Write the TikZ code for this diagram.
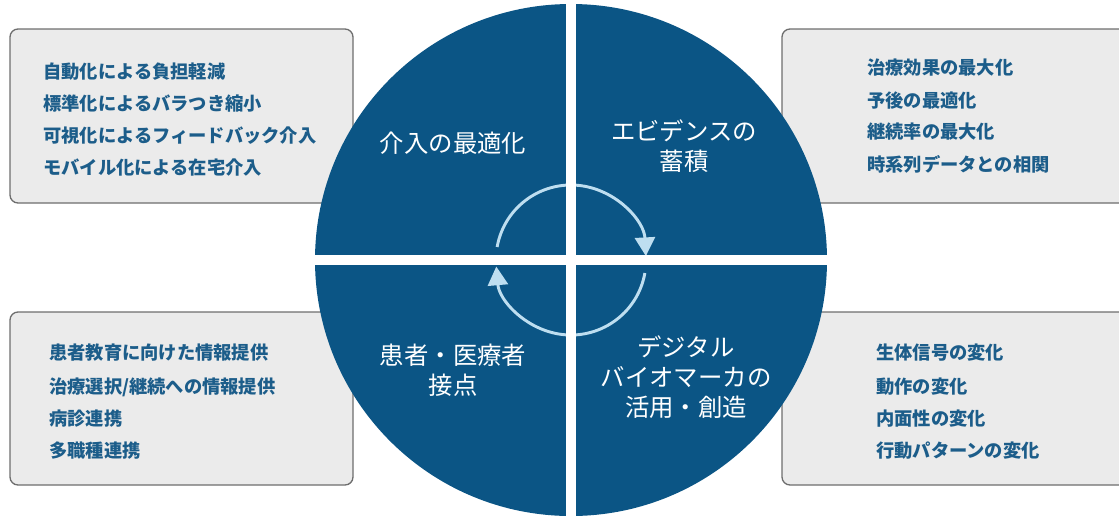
\documentclass[tikz,border=0pt]{standalone}
\usepackage{fontspec}
\newfontfamily\jp{Noto Sans CJK JP}
\usetikzlibrary{arrows.meta}
\definecolor{navy}{RGB}{11,85,133}
\definecolor{boxfill}{RGB}{235,235,235}
\definecolor{boxline}{RGB}{110,110,110}
\definecolor{txtblue}{RGB}{28,93,138}
\definecolor{arrowblue}{RGB}{190,222,240}
\begin{document}
\begin{tikzpicture}[x=0.75pt,y=-0.75pt,
  infobox/.style={draw=boxline, fill=boxfill, line width=1pt, rounded corners=6pt},
  item/.style={anchor=west, inner sep=0pt, text=txtblue, font=\jp\bfseries\fontsize{13.7}{16}\selectfont},
  quad/.style={align=center, text=white, font=\jp\fontsize{18.3}{22.5}\selectfont},
  cyc/.style={draw=arrowblue, line width=2.2pt, -{Triangle[width=15pt,length=14pt]}}]
\useasboundingbox (0,0) rectangle (1119,515);
\begin{scope}
\clip (0,0) rectangle (1119,515);
% side boxes
\path[infobox] (10,29) rectangle (353,203);
\path[infobox] (782,29) rectangle (1130,203);
\path[infobox] (10,312) rectangle (353,485);
\path[infobox] (782,312) rectangle (1130,485);
% circle
\fill[navy] (571,260) circle[radius=256];
% cycle arrows
\draw[cyc] (571,260) ++(-170:75) arc[start angle=-170,end angle=-3,radius=75];
\draw[cyc] (571,260) ++(10:75) arc[start angle=10,end angle=175,radius=75];
% white cross
\begin{scope}
\clip (571,260) circle[radius=257];
\fill[white] (566,0) rectangle (576,520);
\fill[white] (300,255) rectangle (840,265);
\end{scope}
\end{scope}
% quadrant labels
\node[quad] (q1) at (453,143) {介入の最適化};
\node[quad] (q2) at (684,146) {エビデンスの\\蓄積};
\node[quad] (q3) at (453,370) {患者・医療者\\接点};
\node[quad] (q4) at (686,377) {デジタル\\バイオマーカの\\活用・創造};
% items
\node[item] (tl1) at (43,72) {自動化による負担軽減};
\node[item] (tl2) at (43,104) {標準化によるバラつき縮小};
\node[item] (tl3) at (43,136) {可視化によるフィードバック介入};
\node[item] (tl4) at (43,168) {モバイル化による在宅介入};
\node[item] (tr1) at (867,68) {治療効果の最大化};
\node[item] (tr2) at (867,101) {予後の最適化};
\node[item] (tr3) at (867,132) {継続率の最大化};
\node[item] (tr4) at (867,164) {時系列データとの相関};
\node[item] (bl1) at (49,353) {患者教育に向けた情報提供};
\node[item] (bl2) at (49,387) {治療選択/継続への情報提供};
\node[item] (bl3) at (49,419) {病診連携};
\node[item] (bl4) at (49,451) {多職種連携};
\node[item] (br1) at (876,353) {生体信号の変化};
\node[item] (br2) at (876,387) {動作の変化};
\node[item] (br3) at (876,419) {内面性の変化};
\node[item] (br4) at (876,451) {行動パターンの変化};
\end{tikzpicture}
\end{document}
